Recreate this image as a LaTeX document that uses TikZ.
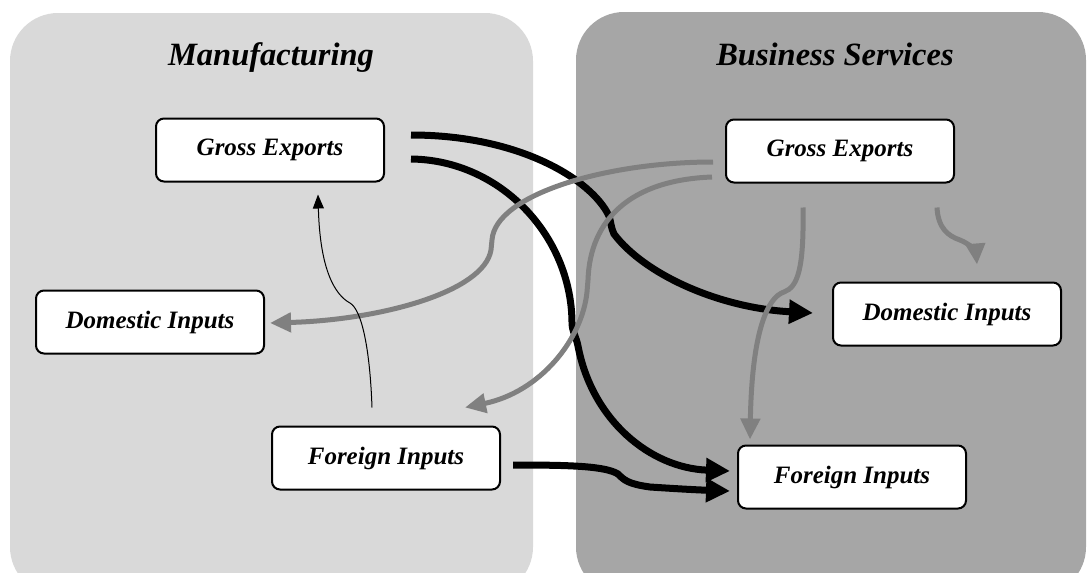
\documentclass[tikz,border=0pt]{standalone}
\usepackage{fontspec}
\setmainfont{Liberation Serif}
\usetikzlibrary{arrows.meta,calc}
\definecolor{lightpanel}{HTML}{D9D9D9}
\definecolor{darkpanel}{HTML}{A6A6A6}
\definecolor{flowgray}{HTML}{808080}
\begin{document}
\begin{tikzpicture}[x=1pt,y=-1pt,
 box/.style={draw=black,line width=2pt,fill=white,rounded corners=8pt,minimum width=228pt,minimum height=63pt,inner sep=0pt,font=\fontsize{25}{30}\selectfont\bfseries\itshape},
 paneltitle/.style={font=\fontsize{32.5}{38}\selectfont\bfseries\itshape,anchor=base},
 blk/.style={line width=7pt,draw=black,-{Triangle[length=24pt,width=23pt]}},
 gry/.style={line width=5pt,draw=flowgray,-{Triangle[length=21pt,width=19pt]}},
 thinflow/.style={line width=1pt,draw=black,-{Triangle[length=14pt,width=11pt]}}
]
\useasboundingbox (0,0) rectangle (1088,573);
\begin{scope}
\clip (0,0) rectangle (1088,573);
\fill[lightpanel,rounded corners=48pt] (10,13) rectangle (533,595);
\fill[darkpanel,rounded corners=48pt] (576,12) rectangle (1086,595);
\end{scope}

\node[paneltitle] (tM) at (271,65) {Manufacturing};
\node[paneltitle] (tB) at (835,65) {Business Services};

\node[box] (geM) at (270,150) {Gross Exports};
\node[box] (diM) at (150,322) {Domestic Inputs};
\node[box] (fiM) at (386,458) {Foreign Inputs};
\node[box] (geB) at (840,151) {Gross Exports};
\node[box] (diB) at (947,314) {Domestic Inputs};
\node[box] (fiB) at (852,477) {Foreign Inputs};

% black flows
\draw[blk] ($(geM.east)+(26,-15)$) .. controls (520,135) and (592,180) .. (609,216)
  .. controls (611,222) and (611,228) .. (614,234)
  .. controls (645,275) and (720,308) .. ($(diB.west)+(-19,-1)$);
\draw[blk] ($(geM.east)+(26,9)$) .. controls (500,160) and (571,235) .. (572,322)
  .. controls (572,332) and (576,336) .. (578,346)
  .. controls (592,420) and (650,468) .. ($(fiB.west)+(-7,-6)$);
\draw[blk] ($(fiM.east)+(12,7)$) .. controls (570,465) and (605,466) .. (618,474)
  .. controls (624,480) and (628,484) .. (650,487)
  .. controls (680,489) and (700,490) .. ($(fiB.west)+(-7,14)$);

% gray flows
\draw[gry] ($(geB.west)+(-12,11)$) .. controls (605,162) and (495,195) .. (492,240) -- (491,250)
  .. controls (484,292) and (380,320) .. ($(diM.east)+(5,1)$);
\draw[gry] ($(geB.west)+(-13,26)$) .. controls (630,180) and (590,220) .. (588,280) -- (587,292)
  .. controls (582,340) and (540,392) .. ($(fiM.north east)+(-36,-18)$);
\draw[gry] ($(geB.south)+(-37,24)$) .. controls (804,268) and (798,287) .. (784,292)
  .. controls (768,297) and (752,330) .. ($(fiB.north west)+(13,-5)$);
\draw[gry] ($(geB.south)+(97,24)$) .. controls (938,228) and (948,236) .. (960,240)
  .. controls (970,244) and (976,252) .. ($(diB.north)+(30,-17)$);

% thin flow
\draw[thinflow] ($(fiM.north)+(-14,-18)$) .. controls (370,350) and (362,310) .. (350,303)
  .. controls (335,295) and (320,270) .. ($(geM.south)+(48,12)$);
\end{tikzpicture}
\end{document}
